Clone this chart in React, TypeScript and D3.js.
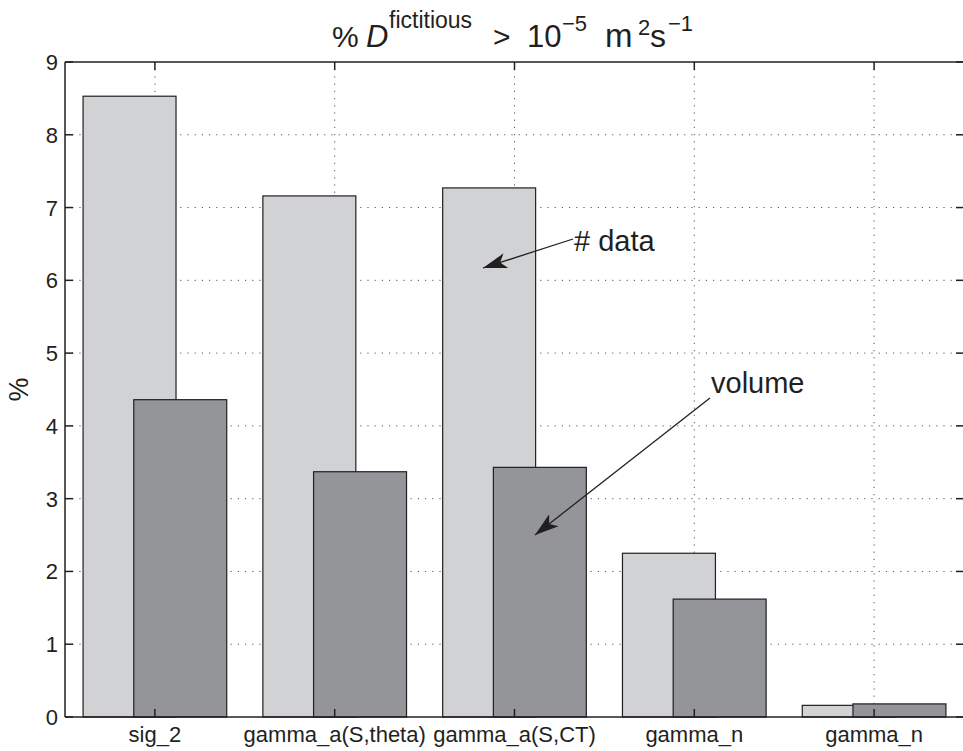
import React from "react";
import * as d3 from "d3";

const categories = ["sig_2", "gamma_a(S,theta)", "gamma_a(S,CT)", "gamma_n", "gamma_n"];
const dataPct = [8.53, 7.16, 7.27, 2.25, 0.16];
const volumePct = [4.36, 3.37, 3.43, 1.62, 0.18];
const yTicks = [0, 1, 2, 3, 4, 5, 6, 7, 8, 9];

const W = 963, H = 751;
const L = 65, R = 964, T = 62, B = 717;
const ink = "#231f20";
const font = "'Liberation Sans', Arial, Helvetica, sans-serif";

export default function App() {
  const x = d3.scaleLinear().domain([0.5, 5.5]).range([L, R]);
  const y = d3.scaleLinear().domain([0, 9]).range([B, T]);
  const bw = 0.517;
  const off = 0.141;
  const xs = categories.map((_, i) => i + 1);

  return (
    <svg width={W} height={H} style={{ position: "absolute", left: 0, top: 0, background: "#fff" }}
      fontFamily={font}>
      <defs>
        <marker id="ah" viewBox="0 0 10 10" refX="10" refY="5" markerWidth="24" markerHeight="24"
          markerUnits="userSpaceOnUse" orient="auto">
          <path d="M0,1.8 L10,5 L0,8.2 L2.5,5 z" fill={ink} />
        </marker>
      </defs>
      {/* grid */}
      <g stroke="#555" strokeWidth={1} strokeDasharray="1.2 6">
        {yTicks.slice(1, -1).map(t => (
          <line key={"gy" + t} x1={L} x2={R} y1={y(t)} y2={y(t)} />
        ))}
        {xs.map(v => (
          <line key={"gx" + v} x1={x(v)} x2={x(v)} y1={T} y2={B} />
        ))}
      </g>
      {/* bars */}
      {xs.map((v, i) => (
        <rect key={"a" + i} x={x(v - off - bw / 2)} width={x(bw) - x(0)} y={y(dataPct[i])}
          height={y(0) - y(dataPct[i])} fill="#d1d2d4" stroke={ink} strokeWidth={1.2} />
      ))}
      {xs.map((v, i) => (
        <rect key={"b" + i} x={x(v + off - bw / 2)} width={x(bw) - x(0)} y={y(volumePct[i])}
          height={y(0) - y(volumePct[i])} fill="#939598" stroke={ink} strokeWidth={1.2} />
      ))}
      {/* axes box */}
      <g stroke={ink} strokeWidth={1.5} fill="none">
        <line x1={L} x2={L} y1={T} y2={B} />
        <line x1={L} x2={R} y1={B} y2={B} />
        <line x1={L} x2={R} y1={T} y2={T} />
        <line x1={R} x2={R} y1={T} y2={B} />
        {yTicks.map(t => (
          <g key={"t" + t}>
            <line x1={L} x2={L + 8} y1={y(t)} y2={y(t)} />
            <line x1={R - 8} x2={R} y1={y(t)} y2={y(t)} />
          </g>
        ))}
        {xs.map(v => (
          <g key={"xt" + v}>
            <line x1={x(v)} x2={x(v)} y1={T} y2={T + 8} />
            <line x1={x(v)} x2={x(v)} y1={B} y2={B - 8} />
          </g>
        ))}
      </g>
      {/* tick labels */}
      <g fill={ink} fontSize={22}>
        {yTicks.map(t => (
          <text key={"yl" + t} x={L - 7} y={y(t) + 8} textAnchor="end">{t}</text>
        ))}
      </g>
      <g fill={ink} fontSize={22}>
        {xs.map((v, i) => (
          <text key={"xl" + i} x={x(v)} y={B + 25} textAnchor="middle">{categories[i]}</text>
        ))}
      </g>
      <text x={28} y={(T + B) / 2} transform={`rotate(-90 28 ${(T + B) / 2})`} textAnchor="middle"
        fontSize={27} fill={ink}>%</text>
      {/* title */}
      <g fill={ink}>
        <text x={332} y={47} fontSize={30}>%</text>
        <text x={366} y={47} fontSize={31} fontStyle="italic">D</text>
        <text x={389} y={28} fontSize={23}>fictitious</text>
        <text x={493} y={47} fontSize={30}>&gt;</text>
        <text x={527} y={47} fontSize={31}>10</text>
        <text x={562} y={31} fontSize={22}>−5</text>
        <text x={605} y={47} fontSize={33}>m</text>
        <text x={638} y={35} fontSize={22}>2</text>
        <text x={650} y={47} fontSize={32}>s</text>
        <text x={668} y={31} fontSize={22}>−1</text>
      </g>
      {/* annotations */}
      <g stroke={ink} strokeWidth={1.3}>
        <line x1={573} y1={239} x2={483} y2={268} markerEnd="url(#ah)" />
        <line x1={710} y1={398} x2={535} y2={535} markerEnd="url(#ah)" />
      </g>
      <text x={574} y={251} fontSize={29} fill={ink}># data</text>
      <text x={711} y={393} fontSize={29} fill={ink}>volume</text>
    </svg>
  );
}
